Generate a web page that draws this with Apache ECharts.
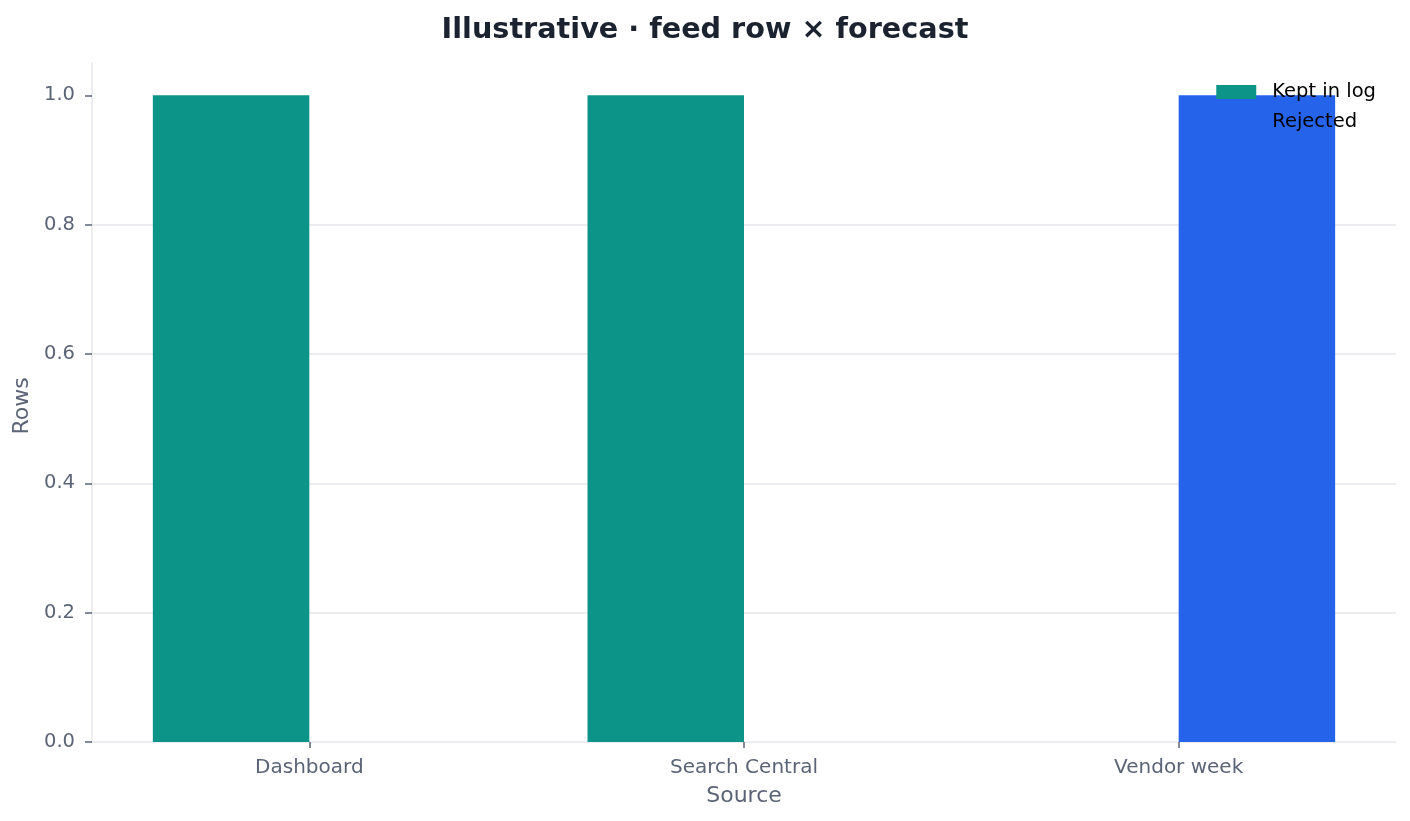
<!DOCTYPE html>
<html>
<head>
<meta charset="utf-8">
<script src="https://cdn.jsdelivr.net/npm/echarts@6/dist/echarts.min.js"></script>
<style>
    html, body { margin: 0; padding: 0; background: #ffffff; }
    #chart { width: 1410px; height: 821px; }
</style>
</head>
<body>
<div id="chart"></div>
<script>
// 数据
const categories = ['Dashboard', 'Search Central', 'Vendor week'];
const keptInLog = [1, 1, 0];
const rejected = [0, 0, 1];
const yTicks = [0, 0.2, 0.4, 0.6, 0.8, 1.0];

const FONT = '"DejaVu Sans", sans-serif';
const AXIS_TEXT = '#5b6477';
const LINE = '#e5e7eb';

let chart = echarts.init(document.getElementById('chart'), null, {renderer: 'canvas'});

let option = {
    backgroundColor: '#ffffff',
    animation: false,
    title: {
        text: 'Illustrative · feed row × forecast',
        left: 'center',
        top: 11,
        textStyle: {fontFamily: FONT, fontSize: 28.7, fontWeight: 'bold', color: '#1b2230'}
    },
    legend: {
        orient: 'vertical',
        right: 34,
        top: 82,
        padding: 0,
        itemWidth: 40,
        itemHeight: 14,
        itemGap: 10,
        icon: 'rect',
        textStyle: {fontFamily: FONT, fontSize: 19.5, lineHeight: 20, color: '#000000', padding: [0, 0, 0, 11]},
        data: ['Kept in log', 'Rejected']
    },
    grid: {left: 92, right: 14, top: 63, bottom: 79, containLabel: false},
    xAxis: {
        type: 'category',
        data: categories,
        name: 'Source',
        nameLocation: 'middle',
        nameGap: 43,
        nameTextStyle: {fontFamily: FONT, fontSize: 22, color: AXIS_TEXT},
        axisLine: {show: true, lineStyle: {color: LINE, width: 1.5}},
        axisTick: {show: true, alignWithLabel: true, length: 6, lineStyle: {color: AXIS_TEXT, width: 1.5}},
        axisLabel: {fontFamily: FONT, fontSize: 20, color: AXIS_TEXT, margin: 16},
        splitLine: {show: false}
    },
    yAxis: {
        type: 'value',
        min: 0,
        max: 1.05,
        interval: 0.2,
        name: 'Rows',
        nameLocation: 'middle',
        nameGap: 56,
        nameTextStyle: {fontFamily: FONT, fontSize: 22, color: AXIS_TEXT, padding: [0, 7, 0, 0]},
        axisLine: {show: true, lineStyle: {color: LINE, width: 1.5}},
        axisTick: {show: true, length: 7, customValues: yTicks, lineStyle: {color: AXIS_TEXT, width: 1.5}},
        axisLabel: {
            fontFamily: FONT, fontSize: 19.5, color: AXIS_TEXT, margin: 17,
            padding: [4, 0, 0, 0],
            customValues: yTicks,
            formatter: function (v) { return v.toFixed(1); }
        },
        splitLine: {show: true, showMinLine: false, showMaxLine: false, lineStyle: {color: LINE, width: 1.5}}
    },
    series: [
        {
            name: 'Kept in log',
            type: 'bar',
            data: keptInLog,
            barWidth: '36%',
            barGap: '0%',
            itemStyle: {color: '#0d9488'}
        },
        {
            name: 'Rejected',
            type: 'bar',
            data: rejected,
            barWidth: '36%',
            barGap: '0%',
            itemStyle: {color: '#2563eb'}
        }
    ]
};

chart.setOption(option);
window.addEventListener('resize', function () { chart.resize(); });
</script>
</body>
</html>
